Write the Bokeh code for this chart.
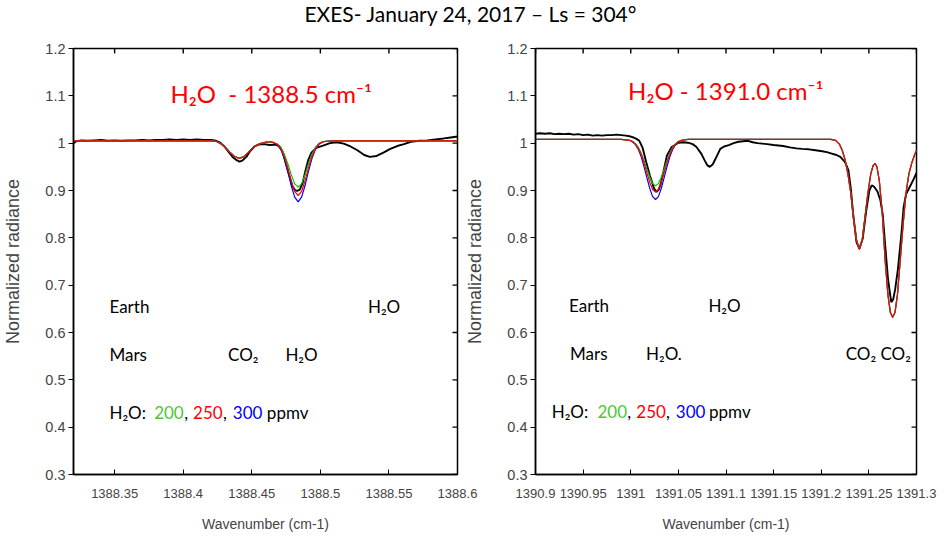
import math
from bokeh.plotting import figure
from bokeh.models import Range1d, FixedTicker, Div
from bokeh.layouts import row, column
from bokeh.embed import file_html
from bokeh.resources import INLINE
from bokeh.core.properties import value

# ---------------- data: left panel (H2O 1388.5 cm-1) ----------------
obs1_wn = [1388.320, 1388.322, 1388.326, 1388.330, 1388.335, 1388.340, 1388.345, 1388.350,
           1388.355, 1388.360, 1388.365, 1388.370, 1388.375, 1388.380, 1388.385, 1388.390,
           1388.395, 1388.400, 1388.405, 1388.410, 1388.415, 1388.420, 1388.424, 1388.427,
           1388.430, 1388.433, 1388.436, 1388.439, 1388.441, 1388.443, 1388.446, 1388.449,
           1388.452, 1388.455, 1388.459, 1388.463, 1388.467, 1388.470, 1388.4725, 1388.475,
           1388.477, 1388.4795, 1388.4815, 1388.483, 1388.485, 1388.487, 1388.489, 1388.491,
           1388.4935, 1388.497, 1388.502, 1388.507, 1388.512, 1388.517, 1388.522, 1388.527,
           1388.532, 1388.536, 1388.541, 1388.546, 1388.551, 1388.556, 1388.561, 1388.566,
           1388.572, 1388.578, 1388.584, 1388.590, 1388.595, 1388.600]
obs1_rad = [1.000, 1.004, 1.006, 1.005, 1.006, 1.007, 1.005, 1.006,
            1.005, 1.006, 1.006, 1.007, 1.006, 1.007, 1.007, 1.008,
            1.007, 1.008, 1.007, 1.008, 1.007, 1.007, 1.005, 1.001,
            0.993, 0.982, 0.971, 0.964, 0.961, 0.963, 0.971, 0.984,
            0.993, 0.997, 0.998, 0.996, 0.997, 0.994, 0.982, 0.955,
            0.935, 0.910, 0.901, 0.899, 0.902, 0.915, 0.940, 0.963,
            0.980, 0.990, 0.995, 1.000, 1.002, 0.999, 0.993, 0.985,
            0.975, 0.971, 0.973, 0.980, 0.988, 0.994, 0.998, 1.003,
            1.005, 1.006, 1.008, 1.010, 1.012, 1.014]

mod1_wn = [1388.320, 1388.420, 1388.424, 1388.428, 1388.431, 1388.434, 1388.437, 1388.4405,
           1388.444, 1388.447, 1388.450, 1388.453, 1388.456, 1388.460, 1388.4638, 1388.4663,
           1388.4688, 1388.4713, 1388.4738, 1388.4763, 1388.4788, 1388.4813, 1388.4838,
           1388.4863, 1388.4888, 1388.4913, 1388.4938, 1388.4963, 1388.4988, 1388.5013,
           1388.5038, 1388.510, 1388.600]
mod1_green = [1.005, 1.005, 1.004, 0.998, 0.990, 0.981, 0.973, 0.968,
              0.971, 0.979, 0.988, 0.995, 0.999, 1.002, 1.003, 1.001,
              0.998, 0.991, 0.976, 0.956, 0.933, 0.914, 0.907,
              0.914, 0.933, 0.956, 0.976, 0.991, 0.999, 1.003,
              1.004, 1.005, 1.005]
mod1_red = [1.005, 1.005, 1.004, 0.998, 0.990, 0.981, 0.973, 0.968,
            0.971, 0.979, 0.988, 0.995, 0.999, 1.002, 1.003, 1.001,
            0.997, 0.988, 0.971, 0.947, 0.920, 0.898, 0.889,
            0.898, 0.920, 0.947, 0.971, 0.988, 0.998, 1.002,
            1.004, 1.005, 1.005]
mod1_blue = [1.005, 1.005, 1.004, 0.998, 0.990, 0.981, 0.973, 0.968,
             0.971, 0.979, 0.988, 0.995, 0.999, 1.002, 1.003, 1.000,
             0.996, 0.986, 0.967, 0.9405, 0.910, 0.886, 0.876,
             0.886, 0.910, 0.9405, 0.967, 0.986, 0.997, 1.002,
             1.004, 1.005, 1.005]

# ---------------- data: right panel (H2O 1391.0 cm-1) ----------------
obs2_wn = [1390.900, 1390.905, 1390.910, 1390.915, 1390.920, 1390.925, 1390.930, 1390.935,
           1390.940, 1390.945, 1390.950, 1390.955, 1390.960, 1390.965, 1390.970, 1390.975,
           1390.980, 1390.985, 1390.990, 1390.995, 1391.000, 1391.003, 1391.006, 1391.009,
           1391.0125, 1391.016, 1391.020, 1391.0245, 1391.027, 1391.0295, 1391.0315, 1391.035,
           1391.038, 1391.043, 1391.050, 1391.055, 1391.060, 1391.065, 1391.069, 1391.074,
           1391.078, 1391.0805, 1391.083, 1391.086, 1391.089, 1391.094, 1391.098, 1391.103,
           1391.108, 1391.113, 1391.118, 1391.123, 1391.128, 1391.133, 1391.138, 1391.143,
           1391.150, 1391.155, 1391.160, 1391.167, 1391.174, 1391.180, 1391.187, 1391.194,
           1391.201, 1391.206, 1391.211, 1391.216, 1391.220, 1391.225, 1391.2285, 1391.231,
           1391.2335, 1391.237, 1391.240, 1391.2435, 1391.247, 1391.2505, 1391.253, 1391.2555,
           1391.259, 1391.262, 1391.2645, 1391.2675, 1391.270, 1391.272, 1391.2735, 1391.2755,
           1391.2775, 1391.2805, 1391.284, 1391.2865, 1391.289, 1391.293, 1391.297, 1391.300]
obs2_rad = [1.020, 1.021, 1.020, 1.021, 1.019, 1.020, 1.019, 1.020,
            1.018, 1.019, 1.017, 1.018, 1.016, 1.017, 1.016, 1.017,
            1.017, 1.018, 1.017, 1.016, 1.014, 1.012, 1.009, 1.005,
            0.990, 0.962, 0.932, 0.904, 0.897, 0.902, 0.914, 0.946,
            0.974, 0.992, 1.001, 1.002, 1.001, 0.998, 0.992, 0.978,
            0.962, 0.953, 0.950, 0.955, 0.967, 0.988, 0.993, 0.996,
            1.000, 1.003, 1.004, 1.005, 1.002, 1.000, 0.999, 0.998,
            0.996, 0.995, 0.994, 0.991, 0.989, 0.988, 0.987, 0.985,
            0.983, 0.981, 0.978, 0.975, 0.971, 0.960, 0.943, 0.905,
            0.850, 0.791, 0.777, 0.798, 0.854, 0.900, 0.911, 0.908,
            0.898, 0.880, 0.850, 0.775, 0.715, 0.685, 0.664, 0.670,
            0.690, 0.734, 0.805, 0.865, 0.892, 0.908, 0.924, 0.937]

mod2_wn = [1390.900, 1390.990, 1390.999, 1391.002, 1391.005, 1391.008, 1391.011, 1391.014,
           1391.017, 1391.020, 1391.023, 1391.026, 1391.029, 1391.032, 1391.035, 1391.038,
           1391.041, 1391.044, 1391.047, 1391.050, 1391.053, 1391.060, 1391.210, 1391.215,
           1391.219, 1391.222, 1391.225, 1391.228, 1391.231, 1391.234, 1391.237, 1391.240,
           1391.243, 1391.246, 1391.249, 1391.252, 1391.2545, 1391.2565, 1391.2585, 1391.261,
           1391.264, 1391.267, 1391.270, 1391.2725, 1391.275, 1391.2775, 1391.280, 1391.283,
           1391.286, 1391.289, 1391.292, 1391.295, 1391.298, 1391.300]
mod2_green = [1.008, 1.008, 1.006, 1.004, 0.999, 0.991, 0.979, 0.963,
              0.945, 0.928, 0.9145, 0.910, 0.9145, 0.928, 0.945, 0.963,
              0.979, 0.991, 0.999, 1.004, 1.006, 1.008, 1.008, 1.006,
              0.998, 0.985, 0.965, 0.935, 0.895, 0.840, 0.795, 0.776,
              0.795, 0.845, 0.895, 0.935, 0.953, 0.957, 0.950, 0.920,
              0.855, 0.755, 0.680, 0.643, 0.632, 0.643, 0.680, 0.755,
              0.830, 0.895, 0.935, 0.958, 0.975, 0.985]
mod2_red = [1.008, 1.008, 1.006, 1.003, 0.998, 0.989, 0.976, 0.958,
            0.937, 0.917, 0.902, 0.897, 0.902, 0.917, 0.937, 0.958,
            0.976, 0.989, 0.998, 1.003, 1.006, 1.008, 1.008, 1.006,
            0.998, 0.985, 0.965, 0.935, 0.895, 0.840, 0.795, 0.776,
            0.795, 0.845, 0.895, 0.935, 0.953, 0.957, 0.950, 0.920,
            0.855, 0.755, 0.680, 0.643, 0.632, 0.643, 0.680, 0.755,
            0.830, 0.895, 0.935, 0.958, 0.975, 0.985]
mod2_blue = [1.008, 1.008, 1.0057, 1.0026, 0.997, 0.9865, 0.971, 0.950,
             0.9265, 0.904, 0.887, 0.881, 0.887, 0.904, 0.9265, 0.950,
             0.971, 0.9865, 0.997, 1.0026, 1.0057, 1.008, 1.008, 1.006,
             0.998, 0.985, 0.965, 0.935, 0.895, 0.840, 0.795, 0.776,
             0.795, 0.845, 0.895, 0.935, 0.953, 0.957, 0.950, 0.920,
             0.855, 0.755, 0.680, 0.643, 0.632, 0.643, 0.680, 0.755,
             0.830, 0.895, 0.935, 0.958, 0.975, 0.985]

# ---------------- axes ----------------
x1_range = (1388.32, 1388.6)
x2_range = (1390.9, 1391.3)
y_range = (0.3, 1.2)
x1_ticks = [1388.35, 1388.4, 1388.45, 1388.5, 1388.55, 1388.6]
x1_labels = ["1388.35", "1388.4", "1388.45", "1388.5", "1388.55", "1388.6"]
x2_ticks = [1390.9, 1390.95, 1391.0, 1391.05, 1391.1, 1391.15, 1391.2, 1391.25, 1391.3]
x2_labels = ["1390.9", "1390.95", "1391", "1391.05", "1391.1", "1391.15", "1391.2", "1391.25", "1391.3"]
y_ticks = [0.3, 0.4, 0.5, 0.6, 0.7, 0.8, 0.9, 1.0, 1.1, 1.2]
y_labels = ["0.3", "0.4", "0.5", "0.6", "0.7", "0.8", "0.9", "1", "1.1", "1.2"]

TITLE = "EXES- January 24, 2017 \u2013 Ls = 304\u00b0"
TICK_FONT = "Liberation Sans"
ANN_FONT = "Lato"
GREEN_LINE = "#00c800"
GREEN_TXT = "#4cc833"


def make_panel(xr, xt, xl, width, bl, br, bt, bb):
    p = figure(width=width, height=498, x_range=Range1d(*xr), y_range=Range1d(*y_range),
               output_backend="svg", toolbar_location=None,
               min_border_left=bl, min_border_right=br, min_border_top=bt, min_border_bottom=bb,
               x_axis_label="Wavenumber (cm-1)", y_axis_label="Normalized radiance")
    p.grid.visible = False
    p.outline_line_color = "black"
    p.outline_line_width = 1.5
    p.background_fill_color = "white"
    p.border_fill_color = None

    xa = p.xaxis[0]
    xa.ticker = FixedTicker(ticks=xt)
    xa.major_label_overrides = dict(zip(xt, xl))
    xa.major_tick_in = 5
    xa.major_tick_out = 0
    xa.minor_tick_line_color = None
    xa.axis_line_width = 1.5
    xa.major_label_standoff = 14
    xa.axis_label_standoff = 15
    xa.major_label_text_font = TICK_FONT
    xa.major_label_text_font_size = "13px"
    xa.axis_label_text_font = TICK_FONT
    xa.axis_label_text_font_size = "14px"
    xa.axis_label_text_font_style = "normal"

    ya = p.yaxis[0]
    ya.ticker = FixedTicker(ticks=y_ticks)
    ya.major_label_overrides = dict(zip(y_ticks, y_labels))
    ya.major_tick_in = 0
    ya.major_tick_out = 5
    ya.minor_tick_line_color = None
    ya.axis_line_width = 1.5
    ya.major_label_standoff = 3
    ya.axis_label_standoff = 19
    ya.major_label_text_font = TICK_FONT
    ya.major_label_text_font_size = "14.5px"
    ya.axis_label_text_font = TICK_FONT
    ya.axis_label_text_font_size = "18px"
    ya.axis_label_text_font_style = "normal"

    # mirrored inward ticks on the top and right frame edges (half clipped by the frame)
    p.scatter(x=xt, y=[y_range[1]] * len(xt), marker="dash", size=10,
              angle=math.pi / 2, line_color="black", line_width=1.4)
    p.scatter(x=[xr[1]] * len(y_ticks), y=y_ticks, marker="dash", size=10,
              line_color="black", line_width=1.4)
    return p


def txt(p, x, y, s, color="black", size="17px", align="left"):
    p.text(x=[x], y=[y], text=[s], text_font=value(ANN_FONT), text_font_size=size,
           text_color=color, text_align=align, text_baseline="middle")


# ---------------- left panel ----------------
p1 = make_panel(x1_range, x1_ticks, x1_labels, 490, 62, 33, 10, 60)
p1.line(obs1_wn, obs1_rad, line_color="black", line_width=1.9)
p1.line(mod1_wn, mod1_blue, line_color="blue", line_width=1.2)
p1.line(mod1_wn, mod1_green, line_color=GREEN_LINE, line_width=1.2)
p1.line(mod1_wn, mod1_red, line_color="red", line_width=1.2)

txt(p1, 1388.4642, 1.104, "H\u2082O\u00a0 - 1388.5 cm\u207b\u00b9", color="red", size="24px", align="center")
txt(p1, 1388.3462, 0.655, "Earth")
txt(p1, 1388.5347, 0.655, "H\u2082O")
txt(p1, 1388.3462, 0.553, "Mars")
txt(p1, 1388.4327, 0.553, "CO\u2082")
txt(p1, 1388.4745, 0.553, "H\u2082O")
txt(p1, 1388.3462, 0.432, "H\u2082O:")
txt(p1, 1388.3788, 0.432, "200", color=GREEN_TXT)
txt(p1, 1388.4008, 0.432, ",")
txt(p1, 1388.4072, 0.432, "250", color="red")
txt(p1, 1388.4291, 0.432, ",")
txt(p1, 1388.4362, 0.432, "300", color="blue")
txt(p1, 1388.4610, 0.432, "ppmv")

# ---------------- right panel ----------------
p2 = make_panel(x2_range, x2_ticks, x2_labels, 477, 61, 23, 12, 60)
p2.styles = {"margin-left": "-28px"}
p2.line(obs2_wn, obs2_rad, line_color="black", line_width=1.9)
p2.line(mod2_wn, mod2_blue, line_color="blue", line_width=1.2)
p2.line(mod2_wn, mod2_green, line_color=GREEN_LINE, line_width=1.2)
p2.line(mod2_wn, mod2_red, line_color="red", line_width=1.2)

txt(p2, 1391.0998, 1.1105, "H\u2082O - 1391.0 cm\u207b\u00b9", color="red", size="24px", align="center")
txt(p2, 1390.9353, 0.658, "Earth")
txt(p2, 1391.0815, 0.658, "H\u2082O")
txt(p2, 1390.9363, 0.555, "Mars")
txt(p2, 1391.016, 0.555, "H\u2082O.")
txt(p2, 1391.2257, 0.555, "CO\u2082 CO\u2082")
txt(p2, 1390.917, 0.434, "H\u2082O:")
txt(p2, 1390.9651, 0.434, "200", color=GREEN_TXT)
txt(p2, 1390.9962, 0.434, ",")
txt(p2, 1391.0059, 0.434, "250", color="red")
txt(p2, 1391.0371, 0.434, ",")
txt(p2, 1391.0473, 0.434, "300", color="blue")
txt(p2, 1391.0822, 0.434, "ppmv")

title = Div(text=TITLE, width=931, height=26,
            styles={"text-align": "center", "font-family": "Lato", "font-size": "21px",
                    "line-height": "18px", "color": "black", "width": "931px"})

layout = column(title, row(p1, p2, spacing=0), spacing=0)
open("out.html", "w").write(file_html(layout, INLINE))
